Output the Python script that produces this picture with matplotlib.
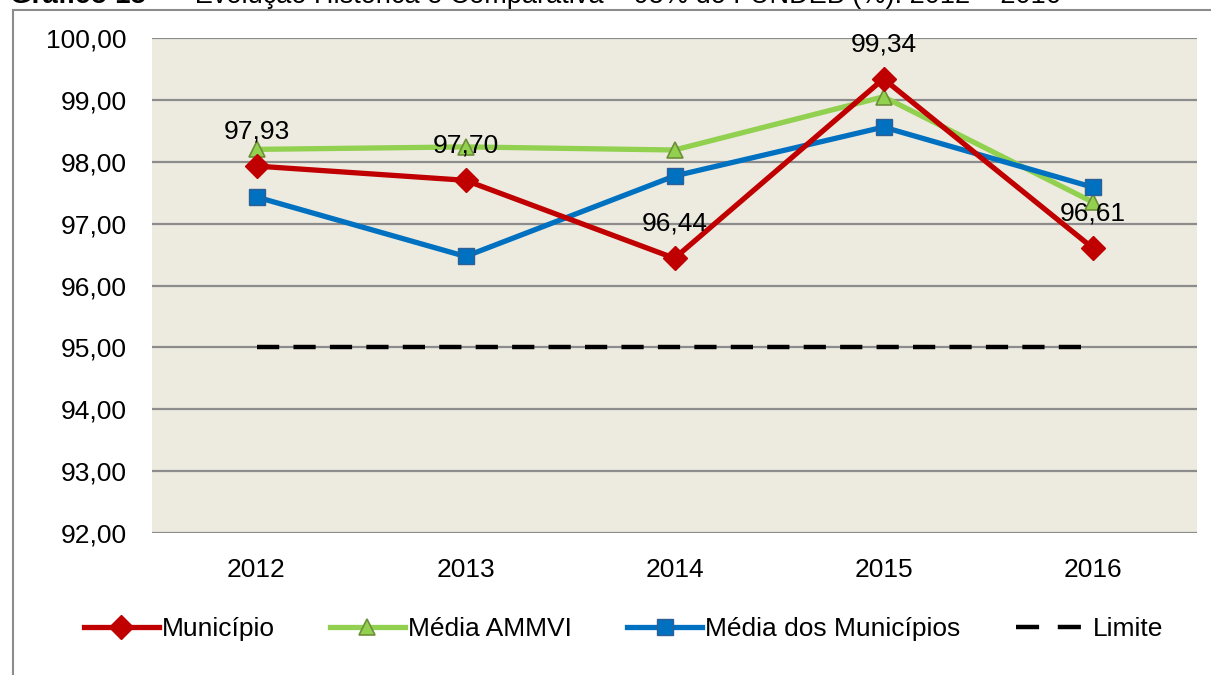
import matplotlib
matplotlib.use("Agg")
import matplotlib.pyplot as plt
from matplotlib.patches import Rectangle
from matplotlib.lines import Line2D

plt.rcParams['font.family'] = ['Liberation Sans', 'DejaVu Sans']

years = ["2012", "2013", "2014", "2015", "2016"]
municipio = [97.93, 97.70, 96.44, 99.34, 96.61]
media_ammvi = [98.20, 98.24, 98.19, 99.05, 97.35]
media_municipios = [97.43, 96.47, 97.77, 98.56, 97.59]
limite = [95.00, 95.00, 95.00, 95.00, 95.00]
yticks = [92, 93, 94, 95, 96, 97, 98, 99, 100]

W, H = 1211, 675
fig = plt.figure(figsize=(W / 100, H / 100), dpi=100)
ax = fig.add_axes([152 / W, 1 - 533 / H, 1045 / W, (533 - 38) / H])

x = list(range(len(years)))
ax.set_facecolor('#EDEBE0')
for t in yticks:
    ax.axhline(t, color='#8C8C8C', lw=1.6, zorder=1)

l1, = ax.plot(x, municipio, color='#C00000', lw=3.8, marker='D', ms=12,
              markerfacecolor='#C00000', markeredgecolor='#C00000', zorder=4, label='Município')
l2, = ax.plot(x, media_ammvi, color='#92D050', lw=3.8, marker='^', ms=11,
              markerfacecolor='#92D050', markeredgecolor='#6E8F3A', markeredgewidth=1.2, zorder=3, label='Média AMMVI')
l3, = ax.plot(x, media_municipios, color='#0070C0', lw=3.8, marker='s', ms=11,
              markerfacecolor='#0070C0', markeredgecolor='#2F5F95', markeredgewidth=1.0, zorder=3, label='Média dos Municípios')
ax.plot(x, limite, color='black', lw=3.2, dashes=(5, 3.2), zorder=2)
l4 = Line2D([], [], color='black', lw=3.2, dashes=(5.2, 4.2), label='Limite')

for xi, v in zip(x, municipio):
    ax.annotate(f"{v:.2f}".replace('.', ','), (xi, v), xytext=(0, 25), textcoords='offset points',
                ha='center', va='center', fontsize=19, color='black', zorder=6)

ax.set_xlim(-0.5, len(years) - 0.5)
ax.set_ylim(92, 100)
ax.set_xticks(x)
ax.set_xticklabels(years)
ax.set_yticks(yticks)
ax.set_yticklabels([f"{t:.2f}".replace('.', ',') for t in yticks])
ax.tick_params(length=0, labelsize=19, colors='black')
ax.tick_params(axis='y', pad=18)
ax.tick_params(axis='x', pad=18)
for s in ax.spines.values():
    s.set_visible(False)

leg = fig.legend(handles=[l1, l2, l3, l4], loc='center', bbox_to_anchor=(0.515, 1 - 629 / H), ncol=4,
                 frameon=False, fontsize=19, handlelength=2.85, handletextpad=0.1, columnspacing=2.1)

# outer frame
fig.patches.append(Rectangle((13 / W, -0.1), 1.2, 1 - 10 / H + 0.1, transform=fig.transFigure,
                             fill=False, edgecolor='#8C8C8C', lw=1.5))

# cut-off caption at the top
fig.text(10 / W, 1 + 4 / H, "Gráfico 15", fontsize=20, fontweight='bold',
         ha='left', va='center', color='black')
fig.text(172 / W, 1 + 4 / H, "– Evolução Histórica e Comparativa – 95% do FUNDEB (%): 2012 – 2016",
         fontsize=19.5, ha='left', va='center', color='black')

fig.savefig('out.png', dpi=100)
